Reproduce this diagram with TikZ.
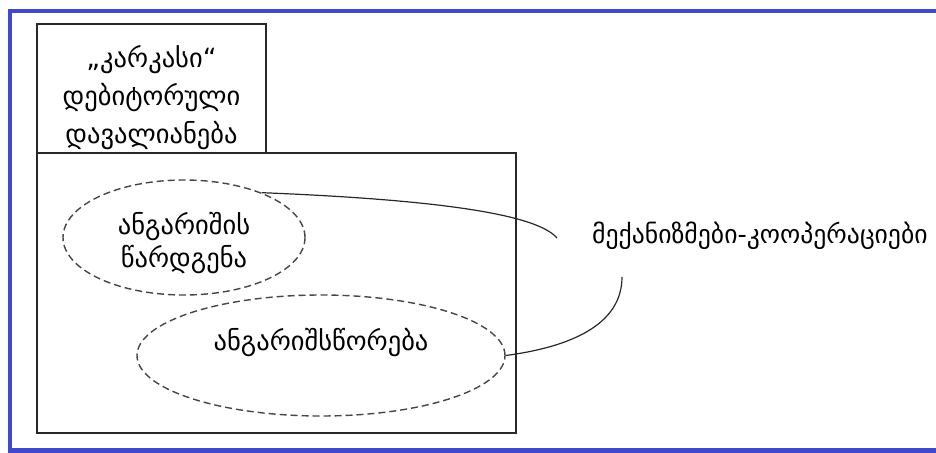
\documentclass[tikz,border=0pt]{standalone}
\usepackage{fontspec}
\setmainfont{DejaVu Sans}
\usetikzlibrary{shapes.geometric}
\definecolor{frameblue}{RGB}{64,72,204}
\definecolor{linegray}{RGB}{40,40,40}
\definecolor{dashgray}{RGB}{70,70,70}
\begin{document}
\begin{tikzpicture}[x=1pt,y=-1pt,
  box/.style={draw=linegray,line width=1.4pt},
  uc/.style={draw=dashgray,dash pattern=on 7pt off 4pt,line width=1.4pt,ellipse,inner sep=0pt},
  lbl/.style={font=\fontsize{26.5}{38}\selectfont,text=black,align=center,inner sep=0pt},
  link/.style={draw=linegray,line width=1.2pt}]
\useasboundingbox (0,0) rectangle (936,452);
\fill[white] (0,0) rectangle (936,452);
\draw[frameblue,line width=4.5pt] (10,11) rectangle (960,450.5);
% package
\draw[box] (37,24) rectangle (266,153);
\draw[box] (37,153) rectangle (516,433);
\node[lbl] (title) at (151.5,98) {„კარკასი“\\დებიტორული\\დავალიანება};
% use cases
\node[uc,minimum width=242pt,minimum height=115pt] (uc1) at (184,237.5) {};
\node[lbl,font=\fontsize{26.5}{33}\selectfont] (t1) at (184,243) {ანგარიშის\\წარდგენა};
\node[uc,minimum width=368pt,minimum height=121pt] (uc2) at (321,355.5) {};
\node[lbl,anchor=base] (t2) at (321,350) {ანგარიშსწორება};
% collaboration
\node[lbl,font=\fontsize{25.7}{30}\selectfont,anchor=base west] (mech) at (592,243) {მექანიზმები-კოოპერაციები};
\coordinate (e1) at (557,238);
\coordinate (e2) at (622,277);
\draw[link] (uc1.30) .. controls (420,199) and (535,212) .. (e1);
\draw[link] (e2) .. controls (622,325) and (570,347) .. (uc2.east);
\end{tikzpicture}
\end{document}
